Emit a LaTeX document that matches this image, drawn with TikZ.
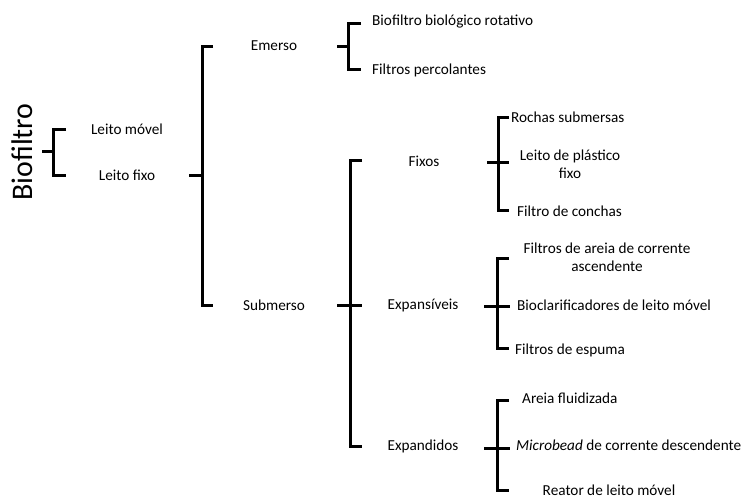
\documentclass[tikz,border=0pt]{standalone}
\usepackage{fontspec}
\setmainfont{Carlito}
\begin{document}
\begin{tikzpicture}[x=1bp,y=-1bp,
  brk/.style={line width=3bp,line cap=butt,line join=miter},
  lbl/.style={inner sep=0pt,font=\fontsize{15.3}{18}\selectfont,align=center}]
\useasboundingbox (0,0) rectangle (746,498);
% texts
\node[inner sep=0pt,rotate=90,font=\fontsize{30}{31}\selectfont] (bio) at (22,152) {Biofiltro};
\node[lbl] (lm) at (127,129) {Leito móvel};
\node[lbl] (lf) at (127,175) {Leito fixo};
\node[lbl] (em) at (274,46) {Emerso};
\node[lbl] (sub) at (274,305) {Submerso};
\node[lbl,anchor=west] (bbr) at (372,22) {Biofiltro biológico rotativo};
\node[lbl,anchor=west] (fp) at (372,70) {Filtros percolantes};
\node[lbl] (fix) at (424,161) {Fixos};
\node[lbl] (exs) at (423,305) {Expansíveis};
\node[lbl] (exd) at (423,446) {Expandidos};
\node[lbl,anchor=west] (rs) at (511,117) {Rochas submersas};
\node[lbl] (lpf) at (570,164) {Leito de plástico\\fixo};
\node[lbl,anchor=west] (fc) at (517,211) {Filtro de conchas};
\node[lbl] (fa) at (607,257) {Filtros de areia de corrente\\ascendente};
\node[lbl,anchor=west] (bcl) at (517,305) {Bioclarificadores de leito móvel};
\node[lbl,anchor=west] (fe) at (515,350) {Filtros de espuma};
\node[lbl,anchor=west] (af) at (522,398) {Areia fluidizada};
\node[lbl,anchor=west] (mb) at (516,445) {\textit{Microbead} de corrente descendente};
\node[lbl] (rl) at (609,490) {Reator de leito móvel};
% brackets
\draw[brk] (42,152) -- (53,152);
\draw[brk] (66,130) -- (53,130) -- (53,176) -- (66,176);
\draw[brk] (189,176) -- (202,176);
\draw[brk] (213,47) -- (202,47) -- (202,305) -- (213,305);
\draw[brk] (337,47) -- (348,47);
\draw[brk] (361,24) -- (348,24) -- (348,70) -- (361,70);
\draw[brk] (337,305) -- (362,305);
\draw[brk] (362,161) -- (350,161) -- (350,446) -- (362,446);
\draw[brk] (487,163) -- (509,163);
\draw[brk] (509,118) -- (498,118) -- (498,211) -- (509,211);
\draw[brk] (484,306) -- (510,306);
\draw[brk] (509,259) -- (497,259) -- (497,348) -- (509,348);
\draw[brk] (484,448) -- (510,448);
\draw[brk] (509,400) -- (497,400) -- (497,490) -- (509,490);
\end{tikzpicture}
\end{document}
